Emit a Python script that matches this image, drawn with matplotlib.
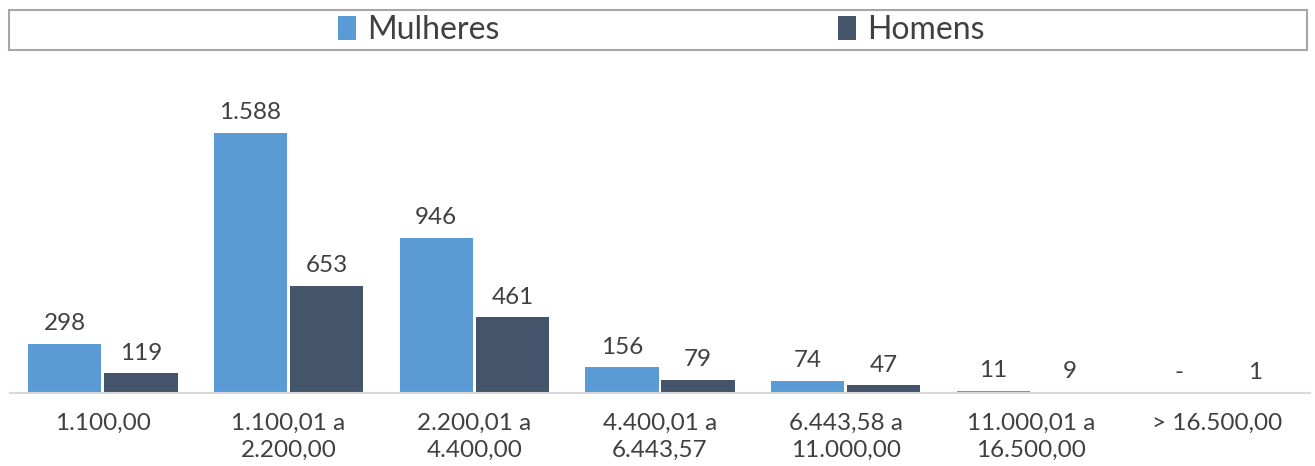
import numpy as np
import matplotlib.pyplot as plt
from matplotlib.patches import Rectangle

# faixas salariais e quantidades por sexo
faixas = ["1.100,00", "1.100,01 a\n2.200,00", "2.200,01 a\n4.400,00", "4.400,01 a\n6.443,57",
          "6.443,58 a\n11.000,00", "11.000,01 a\n16.500,00", "> 16.500,00"]
mulheres = [298, 1588, 946, 156, 74, 11, 0]
homens = [119, 653, 461, 79, 47, 9, 1]

cor_m = "#5B9BD5"
cor_h = "#44546A"
cor_txt = "#404040"

plt.rcParams['font.family'] = ['Lato', 'DejaVu Sans']

W, H = 1315, 466
fig = plt.figure(figsize=(W / 100, H / 100), dpi=100)
# area do grafico em pixels: esquerda 10, direita 1310, base 393, topo 98
ax = fig.add_axes([10 / W, (H - 393) / H, 1300 / W, (393 - 98) / H])

x = np.arange(len(faixas))
larg = 0.395
off = 0.205
b1 = ax.bar(x - off, mulheres, larg, color=cor_m)
b2 = ax.bar(x + off, homens, larg, color=cor_h)


def fmt(v):
    if v == 0:
        return "-"
    return f"{v:,}".replace(",", ".")


for barras, vals in [(b1, mulheres), (b2, homens)]:
    for b, v in zip(barras, vals):
        ax.annotate(fmt(v), (b.get_x() + b.get_width() / 2, v), xytext=(0, 7),
                    textcoords="offset points", ha="center", va="bottom",
                    fontsize=17.5, color=cor_txt)

ax.set_xlim(-0.5, len(faixas) - 0.5)
ax.set_ylim(0, 1800)
ax.set_xticks(x)
ax.set_xticklabels(faixas, fontsize=17.5, color=cor_txt, linespacing=1.35)
ax.tick_params(axis="x", length=0, pad=14)
ax.set_yticks([])
for s in ["top", "right", "left"]:
    ax.spines[s].set_visible(False)
ax.spines["bottom"].set_color("#D9D9D9")
ax.spines["bottom"].set_linewidth(1.5)

# caixa da legenda
fig.patches.append(Rectangle((9 / W, (H - 50) / H), 1298 / W, 40 / H, transform=fig.transFigure,
                             fill=False, edgecolor="#A6A6A6", linewidth=1.5))
leg = fig.legend([b1, b2], ["Mulheres", "Homens"], ncol=2, loc="center",
                 bbox_to_anchor=(0.503, (H - 30) / H), frameon=False, fontsize=23,
                 handlelength=0.56, handleheight=0.75, handletextpad=0.35, columnspacing=10.6)
for t in leg.get_texts():
    t.set_color(cor_txt)

fig.savefig("out.png", dpi=100)
